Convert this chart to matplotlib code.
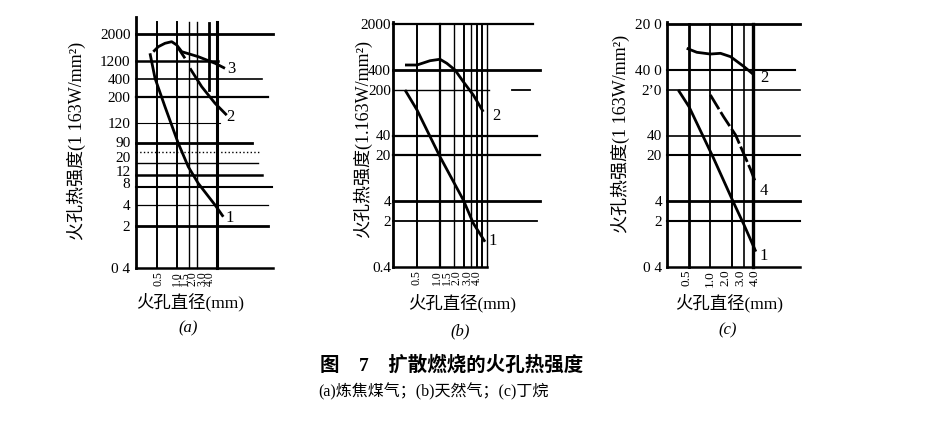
import numpy as np
import matplotlib
matplotlib.use('Agg')
import matplotlib.pyplot as plt
from matplotlib.ticker import NullLocator

W, H = 929, 424
FAM = ['Liberation Serif', 'Noto Sans CJK SC', 'DejaVu Sans']
plt.rcParams['font.family'] = FAM

# ---------------- data ----------------
# (a) coke-oven gas
a_ytick_vals = [2000, 745, 387, 201, 78, 39.2, 22.7, 13.6, 8.8, 3.96, 1.84, 0.4]
a_ytick_labels = ['2000', '1200', '400', '200', '120', '90', '20', '12', '8', '4', '2', '0 4']
a_grid_y = [2000, 745, 387, 201, 78, 37.7, 27.2, 18.2, 11.8, 7.6, 3.96, 1.84]
a_grid_x = [0.5, 1.0, 1.5, 2.0, 4.0]
a_xlabels = ['0.5', '1.0', '1.5', '2.0', '3.0', '4.0']
a_c1_x = [0.392, 0.467, 0.660, 1.046, 1.48, 2.09, 3.74, 4.98]
a_c1_y = [986, 397, 141, 37.3, 15.9, 8.7, 3.96, 2.58]
a_c2_x = [1.57, 2.36, 3.74, 5.61]
a_c2_y = [571, 292, 160, 104]
a_c3_x = [0.440, 0.523, 0.660, 0.832, 0.990, 1.18, 2.09, 3.74, 5.28]
a_c3_y = [1045, 1253, 1419, 1504, 1334, 1045, 872, 686, 571]
a_c3_hook_x = [1.05, 1.32]
a_c3_hook_y = [1183, 822]

# (b) natural gas
b_yticks = [2000, 400, 200, 40, 20, 4, 2, 0.4]
b_ylabels = ['2000', '400', '200', '40', '20', '4', '2', '0.4']
b_grid_x = [0.5, 1.0, 1.5, 2.0, 2.5, 3.0, 3.5, 4.0]
b_xlabels = ['0.5', '1.0', '1.5', '2.0', '3.0', '4.0']
b_c1_x = [0.35, 0.5, 0.99, 1.98, 2.66, 3.77]
b_c1_y = [198, 98, 19, 4.16, 1.84, 0.96]
b_c2_x = [0.35, 0.5, 0.736, 0.99, 1.21, 1.55, 1.98, 2.66, 3.58]
b_c2_y = [475, 475, 552, 581, 505, 398, 264, 166, 92]

# (c) butane
c_yticks = [2000, 400, 200, 40, 20, 4, 2, 0.4]
c_ylabels = ['20 0', '40 0', '2\u20190', '40', '20', '4', '2', '0 4']
c_grid_x = [0.5, 1.0, 2.0, 3.0, 4.0]
c_xlabels = ['0.5', '1.0', '2.0', '3.0', '4.0']
c_c1_x = [0.352, 0.5, 1.11, 2.15, 2.99, 4.38]
c_c1_y = [198, 110, 18, 3.7, 1.73, 0.68]
c_c2_x = [0.464, 0.644, 1.0, 1.39, 1.93, 2.40, 2.99, 4.15]
c_c2_y = [854, 742, 698, 716, 636, 534, 448, 334]
c_c4_x = [1.0, 1.54, 2.27, 3.15, 3.72, 4.38]
c_c4_y = [166, 77, 40.7, 18, 11.9, 7.5]

# ---------------- layout (pixels) ----------------
# the printed x labels sit on an even spacing, not on their grid lines
a_xlabel_px = [158, 177, 185, 193, 202, 210]
b_xlabel_px = [417, 437, 447, 457, 467, 477]
c_xlabel_px = [687, 710, 725, 740, 755]


def make_axes(fig, box, xref, yref):
    # box: left, top, right, bottom in pixels; refs: value, pixel, pixels per decade
    l, t, r, b = box
    ax = fig.add_axes([l / W, 1 - b / H, (r - l) / W, (b - t) / H])
    ax.set_xscale('log')
    ax.set_yscale('log')
    xv, xp, xd = xref
    yv, yp, yd = yref
    ax.set_xlim(xv * 10 ** ((l - xp) / xd), xv * 10 ** ((r - xp) / xd))
    ax.set_ylim(yv * 10 ** ((yp - b) / yd), yv * 10 ** ((yp - t) / yd))
    ax.patch.set_alpha(0)
    for s in ['top', 'right']:
        ax.spines[s].set_visible(False)
    ax.spines['left'].set_linewidth(2.0)
    ax.spines['bottom'].set_linewidth(1.8)
    ax.xaxis.set_minor_locator(NullLocator())
    ax.yaxis.set_minor_locator(NullLocator())
    return ax


def px_to_x(px, xref):
    xv, xp, xd = xref
    return [xv * 10 ** ((p - xp) / xd) for p in px]


def ticks(ax, xt, xl, yt, yl, ypad, xsize=9.5):
    ax.set_xticks(xt, xl, rotation=90, fontsize=xsize)
    ax.set_yticks(yt, yl, fontsize=11)
    ax.tick_params(axis='x', length=0, pad=2)
    ax.tick_params(axis='y', length=0, pad=ypad)


def hgrid(ax, ys, ends, widths, styles=None):
    for i, (y, e, w) in enumerate(zip(ys, ends, widths)):
        ls = styles[i] if styles else '-'
        ax.axhline(y, xmin=0, xmax=e, color='k', lw=w, ls=ls, clip_on=False, zorder=1)


def vgrid(ax, xs, widths, top=1.0):
    for x, w in zip(xs, widths):
        ax.axvline(x, ymin=0, ymax=top, color='k', lw=w, clip_on=False, zorder=1)


def curve(ax, x, y, ls='-'):
    ax.plot(x, y, color='k', lw=2.0, ls=ls, solid_capstyle='butt', zorder=3, clip_on=False)


fig = plt.figure(figsize=(W / 100, H / 100), dpi=100)

# ---------------- panel (a) ----------------
xref = (0.5, 157, 66.4)
ax = make_axes(fig, (136, 17, 273, 268), xref, (0.4, 268, 63.3))
ticks(ax, px_to_x(a_xlabel_px, xref), a_xlabels, a_ytick_vals, a_ytick_labels, 4, xsize=8.5)
hgrid(ax, a_grid_y,
      [1.0, 0.60, 0.92, 0.96, 0.61, 0.85, 0.90, 0.89, 0.92, 0.99, 0.96, 0.96],
      [2.0, 1.8, 1.2, 1.6, 0.8, 2.0, 1.0, 1.0, 1.8, 1.5, 0.9, 2.0],
      ['-', '-', '-', '-', '-', '-', ':', '-', '-', '-', '-', '-'])
vgrid(ax, a_grid_x, [1.4, 1.4, 1.0, 1.0, 2.2], top=0.98)
ax.axvline(3.0, ymin=(268 - 90) / 251, ymax=0.975, color='k', lw=2.0, zorder=1)
curve(ax, a_c1_x, a_c1_y)
curve(ax, a_c2_x, a_c2_y)
curve(ax, a_c3_x, a_c3_y)
curve(ax, a_c3_hook_x, a_c3_hook_y)
ax.text(6.6, 560, '3', fontsize=12, va='center', ha='center')
ax.text(6.4, 98, '2', fontsize=12, va='center', ha='center')
ax.text(6.2, 2.5, '1', fontsize=12, va='center', ha='center')
fig.text(76 / W, 1 - 141 / H, '火孔热强度(1 163W/mm²)', rotation=90,
         fontsize=13, ha='center', va='center')
fig.text(190 / W, 1 - 302 / H, '火孔直径(mm)', fontsize=12.5, ha='center', va='center')
fig.text(188 / W, 1 - 328 / H, '(a)', fontsize=12, ha='center', va='center', style='italic')

# ---------------- panel (b) ----------------
xref = (0.5, 417, 77.5)
ax = make_axes(fig, (393, 22, 540, 267), xref, (0.4, 266.7, 65.6))
ticks(ax, px_to_x(b_xlabel_px, xref), b_xlabels, b_yticks, b_ylabels, 1.5, xsize=8.5)
ax.spines['bottom'].set_bounds(ax.get_xlim()[0], 4.0)
hgrid(ax, b_yticks[:-1],
      [0.95, 1.0, 0.65, 0.98, 1.0, 1.0, 0.98],
      [1.6, 2.0, 1.0, 1.6, 1.6, 2.0, 1.3])
ax.axhline(200, xmin=0.81, xmax=0.93, color='k', lw=1.3, zorder=1)
vgrid(ax, b_grid_x, [1.4, 1.6, 1.0, 1.4, 1.0, 1.4, 1.4, 1.0], top=0.99)
curve(ax, b_c1_x, b_c1_y)
curve(ax, b_c2_x, b_c2_y)
ax.text(5.3, 78, '2', fontsize=12, va='center', ha='center')
ax.text(4.8, 0.98, '1', fontsize=12, va='center', ha='center')
fig.text(362 / W, 1 - 139 / H, '火孔热强度(1.163W/mm²)', rotation=90,
         fontsize=13, ha='center', va='center')
fig.text(462 / W, 1 - 303 / H, '火孔直径(mm)', fontsize=12.5, ha='center', va='center')
fig.text(460 / W, 1 - 331 / H, '(b)', fontsize=12, ha='center', va='center', style='italic')

# ---------------- panel (c) ----------------
xref = (0.5, 689, 70.9)
ax = make_axes(fig, (667, 22, 800, 267), xref, (0.4, 266.7, 65.6))
ticks(ax, px_to_x(c_xlabel_px, xref), c_xlabels, c_yticks, c_ylabels, 3.6)
hgrid(ax, c_yticks[:-1],
      [1.0, 0.96, 1.0, 1.0, 1.0, 1.0, 1.0],
      [2.0, 1.5, 1.2, 1.2, 1.5, 2.0, 1.5])
vgrid(ax, c_grid_x, [2.0, 1.3, 1.4, 1.2, 2.4], top=0.99)
curve(ax, c_c1_x, c_c1_y)
curve(ax, c_c2_x, c_c2_y)
curve(ax, c_c4_x, c_c4_y, ls=(0, (6, 1.2)))
ax.text(5.7, 300, '2', fontsize=12, va='center', ha='center')
ax.text(5.7, 5.7, '4', fontsize=12, va='center', ha='center')
ax.text(5.7, 0.58, '1', fontsize=12, va='center', ha='center')
fig.text(620 / W, 1 - 134 / H, '火孔热强度(1 163W/mm²)', rotation=90,
         fontsize=13, ha='center', va='center')
fig.text(729 / W, 1 - 303 / H, '火孔直径(mm)', fontsize=12.5, ha='center', va='center')
fig.text(728 / W, 1 - 330 / H, '(c)', fontsize=12, ha='center', va='center', style='italic')

# ---------------- caption ----------------
fig.text(320 / W, 1 - 365 / H, '图\u30007\u3000扩散燃烧的火孔热强度', fontsize=14,
         fontweight='bold', ha='left', va='center')
fig.text(318 / W, 1 - 392 / H, '(a)炼焦煤气；(b)天然气；(c)丁烷', fontsize=11.5,
         ha='left', va='center')

fig.savefig('out.png', dpi=100)
